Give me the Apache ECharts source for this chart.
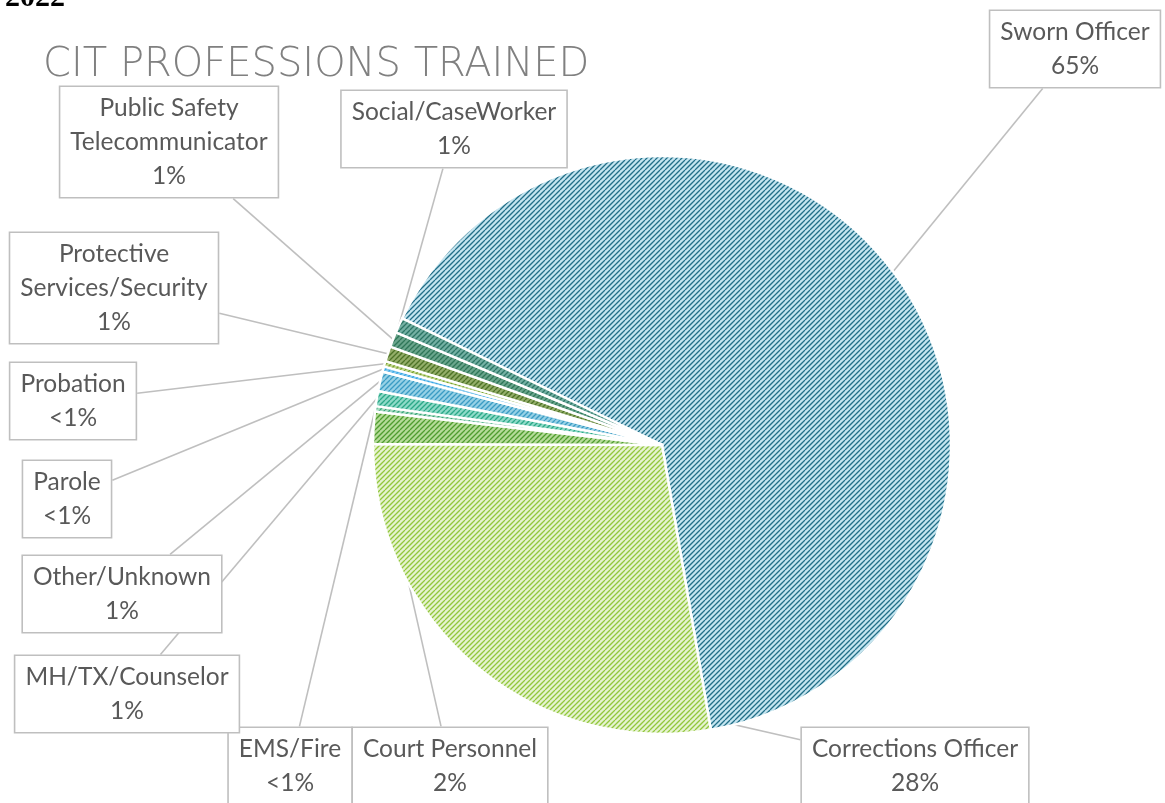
<!DOCTYPE html>
<html>
<head>
<meta charset="utf-8">
<script src="https://cdn.jsdelivr.net/npm/echarts@6/dist/echarts.min.js"></script>
<style>
html, body { margin: 0; padding: 0; background: #fff; }
#main { width: 1165px; height: 803px; }
</style>
</head>
<body>
<div id="main"></div>
<script>
// professions, clockwise from the big slice
var professions = ['Sworn Officer', 'Corrections Officer', 'Court Personnel', 'EMS/Fire',
    'MH/TX/Counselor', 'Other/Unknown', 'Parole', 'Probation',
    'Protective\nServices/Security', 'Public Safety\nTelecommunicator', 'Social/CaseWorker'];
var shares = [65.4, 27.9, 1.8, 0.3, 0.85, 1.1, 0.3, 0.3, 0.85, 0.85, 0.85];

var fillColors = ['#c4e5f0', '#e6f3d0', '#b5db98', '#a6dcc0', '#8fdac8', '#96d1e6',
    '#86cbef', '#c2d88e', '#93ad68', '#6aa58c', '#74b0a3'];
var lineColors = ['#226f88', '#92c73d', '#4f9d2f', '#3aa57a', '#2aa887', '#3a9cc4',
    '#37a6e6', '#78a232', '#4d7327', '#2e7658', '#2b7565'];

// centre of each callout box
var labelCenters = [[1075, 49], [915, 766], [450, 766], [290, 766], [127, 694],
    [122, 594], [67, 499], [73, 401], [114, 288], [169, 142], [454, 129]];

function hatch(bg, fg) {
    var c = document.createElement('canvas');
    c.width = 10; c.height = 10;
    var ctx = c.getContext('2d');
    ctx.fillStyle = bg;
    ctx.fillRect(0, 0, 10, 10);
    ctx.strokeStyle = fg;
    ctx.lineWidth = 1.25;
    for (var k = -10; k <= 15; k += 5) {
        ctx.beginPath();
        ctx.moveTo(k, 10);
        ctx.lineTo(k + 10, 0);
        ctx.stroke();
    }
    return c;
}

function boxAnchor(cx, cy, w, h, tx, ty) {
    var dx = tx - cx, dy = ty - cy;
    var sx = dx !== 0 ? (w / 2) / Math.abs(dx) : Infinity;
    var sy = dy !== 0 ? (h / 2) / Math.abs(dy) : Infinity;
    var s = Math.min(sx, sy);
    return [cx + dx * s, cy + dy * s];
}

var pieData = professions.map(function (name, i) {
    return {
        name: name,
        value: shares[i],
        itemStyle: { color: { image: hatch(fillColors[i], lineColors[i]), repeat: 'repeat' } }
    };
});

var myChart = echarts.init(document.getElementById('main'));
var option = {
    backgroundColor: '#fff',
    animation: false,
    title: [
        {
            text: 'CIT PROFESSIONS TRAINED',
            left: 38,
            top: 41,
            textStyle: { fontFamily: 'DejaVu Sans', fontWeight: 200, fontSize: 40, color: '#808080' }
        },
        {
            text: '2022',
            left: 0,
            top: -22,
            textStyle: { fontFamily: 'Liberation Serif', fontWeight: 'bold', fontSize: 30, color: '#000' }
        }
    ],
    series: [
        {
            type: 'pie',
            center: [662, 445],
            radius: 289,
            startAngle: 154,
            clockwise: true,
            avoidLabelOverlap: false,
            itemStyle: { borderColor: '#fff', borderWidth: 2.5 },
            label: {
                show: true,
                position: 'outside',
                formatter: function (p) {
                    var pct = p.percent < 0.5 ? '<1%' : Math.round(p.percent) + '%';
                    return p.name + '\n' + pct;
                },
                fontFamily: 'Lato',
                fontSize: 24.5,
                lineHeight: 34,
                color: '#595959',
                backgroundColor: '#fff',
                borderColor: '#bfbfbf',
                borderWidth: 1.6,
                padding: [4, 10]
            },
            labelLine: {
                show: true,
                length: 10,
                length2: 10,
                lineStyle: { color: '#bfbfbf', width: 1.6 }
            },
            labelLayout: function (params) {
                var c = labelCenters[params.dataIndex];
                var r = params.labelRect;
                var pts = params.labelLinePoints;
                var tip = pts ? pts[0] : c;
                var a = boxAnchor(c[0], c[1], r.width, r.height, tip[0], tip[1]);
                return {
                    x: c[0],
                    y: c[1],
                    align: 'center',
                    verticalAlign: 'middle',
                    labelLinePoints: [tip, a, a]
                };
            },
            data: pieData
        }
    ]
};
myChart.setOption(option);
</script>
</body>
</html>
